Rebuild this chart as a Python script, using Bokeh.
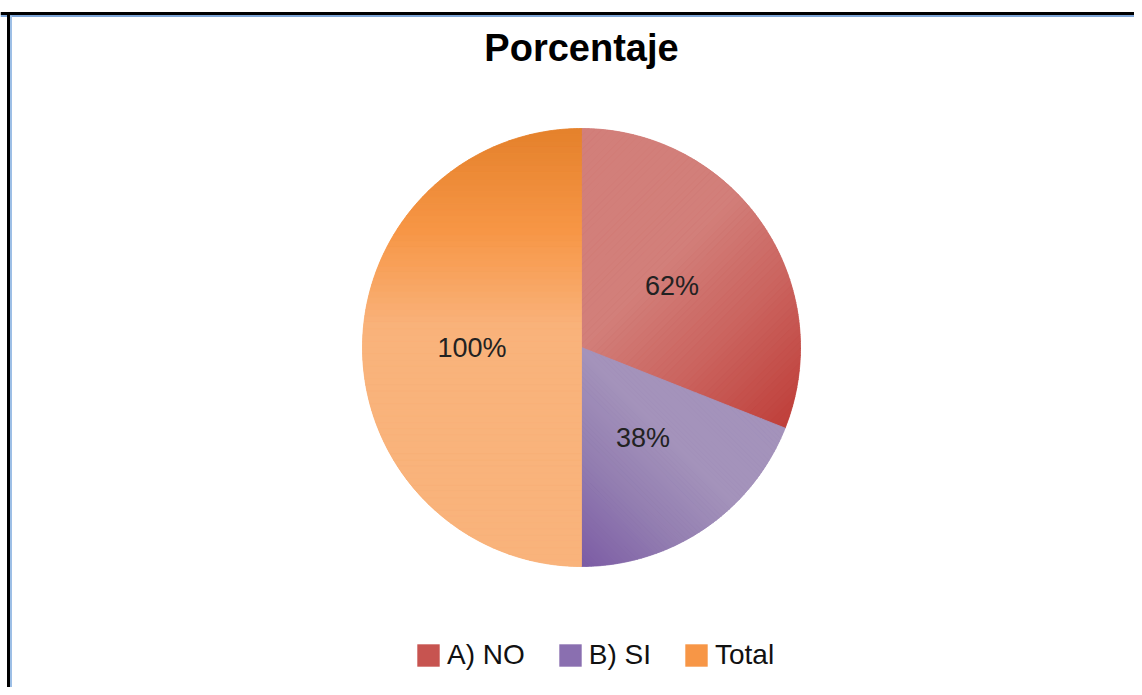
import numpy as np
from bokeh.plotting import figure
from bokeh.models import ColumnDataSource, Range1d, Legend, LegendItem, Label
from bokeh.embed import file_html
from bokeh.resources import INLINE
from bokeh.core.properties import value

# ---- data ----
categories = ["A) NO", "B) SI", "Total"]
percent_values = [62, 38, 100]
percent_labels = ["62%", "38%", "100%"]
colors = ["#c75450", "#8a6fb0", "#f79646"]

# ---- styles: per-slice shading (direction in data coords, stops in units of R) ----
shading = [
    ((0.7071, -0.7071), [(0.00, "#d27f7a"), (0.45, "#ca625d"), (0.92, "#bf3f3a")]),
    ((0.7071, 0.7071), [(-0.72, "#7a5aa4"), (-0.36, "#927cb0"), (0.0, "#a493bb")]),
    ((0.0, -1.0), [(-1.0, "#e4812b"), (-0.53, "#f79646"), (-0.10, "#f9b27a"), (0.0, "#f9b37b")]),
]

# ---- layout ----
W, H = 1134, 687
FONT = "Liberation Sans"
cx, cy, R = 581, 340, 219

p = figure(width=W, height=H, output_backend="svg", toolbar_location=None,
           x_range=Range1d(0, W), y_range=Range1d(0, H), min_border=0)
p.axis.visible = False
p.grid.visible = False
p.outline_line_color = None
p.background_fill_color = "white"
p.border_fill_color = "white"

vals = np.array(percent_values, dtype=float)
angles = 2 * np.pi * vals / vals.sum()
ends = np.pi / 2 - np.concatenate([[0.0], np.cumsum(angles)[:-1]])
starts = ends - angles
mids = (starts + ends) / 2

src = ColumnDataSource(dict(
    cat=categories, val=percent_values, lab=percent_labels, color=colors,
    start=starts, end=ends,
    lx=cx + 0.5 * R * np.cos(mids), ly=cy + 0.5 * R * np.sin(mids),
))

wr = p.wedge(x=cx, y=cy, radius=R, start_angle="start", end_angle="end",
             direction="anticlock", fill_color="color", line_color=None,
             source=src)


# ---- gradient shading overlay, derived from the wedge geometry ----
def hex2rgb(h):
    h = h.lstrip("#")
    return np.array([int(h[i:i + 2], 16) for i in (0, 2, 4)], dtype=float)


def interp_color(u, stops):
    us = [s[0] for s in stops]
    cs = np.array([hex2rgb(s[1]) for s in stops])
    rgb = [np.interp(u, us, cs[:, k]) for k in range(3)]
    return "#%02x%02x%02x" % tuple(int(round(v)) for v in rgb)


def clip(poly, n, a):
    # keep part with n.p >= a
    out = []
    m = len(poly)
    for i in range(m):
        P, Q = poly[i], poly[(i + 1) % m]
        fp, fq = n[0] * P[0] + n[1] * P[1] - a, n[0] * Q[0] + n[1] * Q[1] - a
        if fp >= 0:
            out.append(P)
        if (fp >= 0) != (fq >= 0):
            t = fp / (fp - fq)
            out.append((P[0] + t * (Q[0] - P[0]), P[1] + t * (Q[1] - P[1])))
    return out


xs_all, ys_all, cols_all = [], [], []
for i in range(len(categories)):
    th = np.linspace(starts[i], ends[i], 240)
    poly = [(0.0, 0.0)] + [(R * np.cos(t), R * np.sin(t)) for t in th]
    d, stops = shading[i]
    proj = [d[0] * x + d[1] * y for x, y in poly]
    lo, hi = min(proj), max(proj)
    nb = 70
    edges = np.linspace(lo, hi, nb + 1)
    for k in range(nb):
        a, b = edges[k], edges[k + 1]
        pc = clip(poly, d, a)
        if len(pc) < 3:
            continue
        pc = clip(pc, (-d[0], -d[1]), -b)
        if len(pc) < 3:
            continue
        xs_all.append([cx + x for x, _ in pc])
        ys_all.append([cy + y for _, y in pc])
        cols_all.append(interp_color((a + b) / 2 / R, stops))

p.patches(xs="xs", ys="ys", source=ColumnDataSource(dict(xs=xs_all, ys=ys_all, c=cols_all)),
          fill_color="c", line_color="c", line_width=0.8)

p.text(x="lx", y="ly", text="lab", source=src, text_align="center",
       text_baseline="middle", text_font=value(FONT), text_font_size="27px",
       text_color="#222222")

# frame decoration
p.line([0, W], [H - 13, H - 13], line_color="black", line_width=3)
p.line([0, W], [H - 15.5, H - 15.5], line_color="#7ea6d8", line_width=2)
p.line([8, 8], [0, H - 13], line_color="black", line_width=3)
p.line([10.5, 10.5], [0, H - 15], line_color="#9dbfe6", line_width=2)

title = Label(x=581, y=H - 47, text="Porcentaje", text_align="center",
              text_baseline="alphabetic", text_font=FONT,
              text_font_style="bold", text_font_size="38px",
              text_color="black")
p.add_layout(title)

items = [LegendItem(label=c, renderers=[wr], index=i) for i, c in enumerate(categories)]
legend = Legend(items=items, orientation="horizontal", location=(414, 16),
                glyph_width=28, glyph_height=28, label_standoff=5, spacing=31,
                padding=0, margin=0, border_line_color=None,
                background_fill_alpha=0, label_text_font=FONT,
                label_text_font_size="28px", label_text_color="#111111")
p.add_layout(legend)

open("out.html", "w").write(file_html(p, INLINE))
